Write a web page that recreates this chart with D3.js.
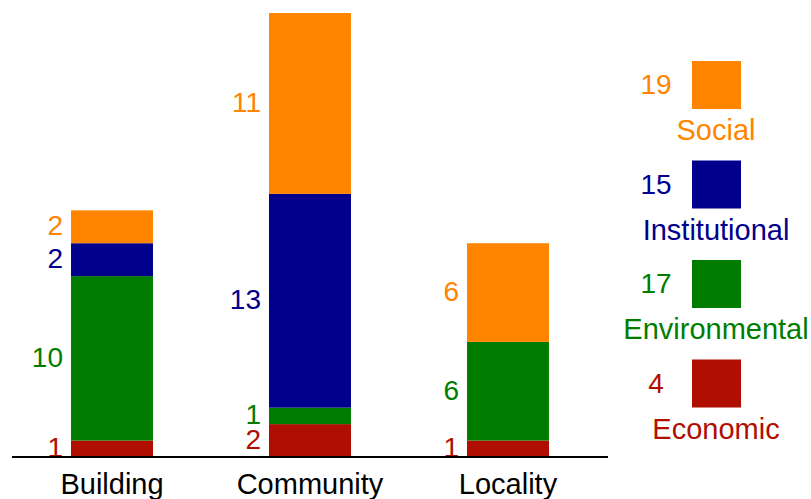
<!DOCTYPE html>
<meta charset="utf-8">
<script src="https://d3js.org/d3.v7.min.js"></script>
<style>
  body { margin: 0; background: #fff; }
  text { font-family: "Liberation Sans", Arial, sans-serif; }
</style>
<div class="canvas"></div>
<script>
    const width = 811
    const height = 499

    // data
    const categories = ["Building", "Community", "Locality"]
    const seriesNames = ["Economic", "Environmental", "Institutional", "Social"]
    const economic = [1, 2, 1]
    const environmental = [10, 1, 6]
    const institutional = [2, 13, 0]
    const social = [2, 11, 6]
    const legendTotals = [4, 17, 15, 19]
    const colors = ["#b00e00", "#007d00", "#00008c", "#ff8500"]

    const rows = categories.map((c, i) => ({
        cat: c,
        Economic: economic[i],
        Environmental: environmental[i],
        Institutional: institutional[i],
        Social: social[i]
    }))

    const svg = d3.select(".canvas")
                .append("svg")
                .attr("width", width)
                .attr("height", height)

    const x = d3.scaleBand()
                .domain(categories)
                .range([13, 607])
                .paddingInner(0.586)
                .paddingOuter(0.293)

    const y = d3.scaleLinear()
                .domain([0, 27])
                .range([457, 13])

    const stack = d3.stack().keys(seriesNames)(rows)
    const color = d3.scaleOrdinal().domain(seriesNames).range(colors)

    const layers = svg.append("g").selectAll("g")
        .data(stack)
        .join("g")
        .attr("fill", d => color(d.key))

    layers.selectAll("rect")
        .data(d => d.filter(s => s[1] > s[0]))
        .join("rect")
        .attr("x", d => x(d.data.cat))
        .attr("width", x.bandwidth())
        .attr("y", d => y(d[1]))
        .attr("height", d => y(d[0]) - y(d[1]))

    // value labels to the left of each segment
    stack.forEach(layer => {
        svg.append("g").selectAll("text")
            .data(layer.filter(s => s[1] > s[0]))
            .join("text")
            .attr("x", d => x(d.data.cat) - 8)
            .attr("y", d => (y(d[0]) + y(d[1])) / 2)
            .attr("dy", "0.3em")
            .attr("text-anchor", "end")
            .attr("fill", color(layer.key))
            .style("font-size", "28px")
            .text(d => d[1] - d[0])
    })

    // x axis
    const xAxis = d3.axisBottom(x).tickSize(0).tickPadding(16)
    const gX = svg.append("g")
        .attr("transform", "translate(0,457)")
        .call(xAxis)
    gX.select(".domain").attr("d", "M12,0H608").attr("stroke", "#000").attr("stroke-width", 2)
    gX.selectAll("text")
        .style("font-size", "29px")
        .style("font-family", "\"Liberation Sans\", Arial, sans-serif")
        .attr("fill", "#000")

    // legend, top to bottom: Social, Institutional, Environmental, Economic
    const legendOrder = [3, 2, 1, 0]
    const legend = svg.append("g").selectAll("g")
        .data(legendOrder)
        .join("g")
        .attr("transform", (d, i) => `translate(0,${61 + i * 99.5})`)

    legend.append("rect")
        .attr("x", 692)
        .attr("width", 49)
        .attr("height", 48)
        .attr("fill", d => colors[d])

    legend.append("text")
        .attr("x", 656)
        .attr("y", 24)
        .attr("dy", "0.33em")
        .attr("text-anchor", "middle")
        .attr("fill", d => colors[d])
        .style("font-size", "28px")
        .text(d => legendTotals[d])

    legend.append("text")
        .attr("x", 716)
        .attr("y", 69)
        .attr("dy", "0.36em")
        .attr("text-anchor", "middle")
        .attr("fill", d => colors[d])
        .style("font-size", "29px")
        .text(d => seriesNames[d])
</script>
